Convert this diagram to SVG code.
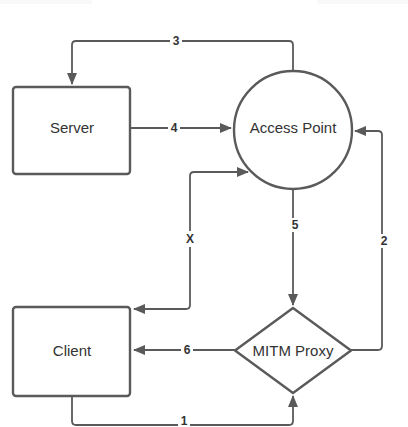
<svg xmlns="http://www.w3.org/2000/svg" width="408" height="427" viewBox="0 0 408 427">
<defs>
<marker id="ah" markerUnits="userSpaceOnUse" markerWidth="12" markerHeight="10" refX="11" refY="5" orient="auto-start-reverse">
<path d="M0,0 L12,5 L0,10 Z" fill="#5a5a5a"/>
</marker>
</defs>
<style>
.shape{fill:#fff;stroke:#5a5a5a;stroke-width:2.4}
.conn{fill:none;stroke:#5a5a5a;stroke-width:1.8;stroke-linejoin:round}
.lbl{font-family:"Liberation Sans",Arial,sans-serif;font-size:12px;font-weight:bold;fill:#333;text-anchor:middle;dominant-baseline:central}
.lblbg{fill:#fff}
.txt{font-family:"Liberation Sans",Arial,sans-serif;font-size:15px;fill:#333;text-anchor:middle}
</style>
<rect width="408" height="427" fill="#fff"/>
<rect x="0" y="0" width="92" height="4" fill="#f9f9f9"/>
<rect x="317" y="0" width="91" height="4" fill="#f9f9f9"/>
<g id="connectors">
<path class="conn" d="M293,70 V45 Q293,41 289,41 H76 Q72,41 72,45 V84" marker-end="url(#ah)"/>
<path class="conn" d="M131,128 H231" marker-end="url(#ah)"/>
<path class="conn" d="M134,309 H186 Q190,309 190,305 V176 Q190,172 194,172 H248" marker-start="url(#ah)" marker-end="url(#ah)"/>
<path class="conn" d="M293,190 V305" marker-end="url(#ah)"/>
<path class="conn" d="M351,350 H378 Q382,350 382,346 V135 Q382,131 378,131 H355" marker-end="url(#ah)"/>
<path class="conn" d="M235,350 H134" marker-end="url(#ah)"/>
<path class="conn" d="M72,397 V421 Q72,425 76,425 H289 Q293,425 293,421 V396" marker-end="url(#ah)"/>
<rect class="lblbg" x="170" y="34" width="12" height="14"/>
<text class="lbl" x="176" y="41">3</text>
<rect class="lblbg" x="168" y="121" width="12" height="14"/>
<text class="lbl" x="174" y="128">4</text>
<rect class="lblbg" x="184" y="231" width="12" height="16"/>
<text class="lbl" x="190" y="239">X</text>
<rect class="lblbg" x="289" y="218" width="12" height="14"/>
<text class="lbl" x="295" y="225">5</text>
<rect class="lblbg" x="376" y="234" width="12" height="14"/>
<text class="lbl" x="384" y="241">2</text>
<rect class="lblbg" x="181" y="343" width="12" height="14"/>
<text class="lbl" x="187" y="350">6</text>
<rect class="lblbg" x="178" y="414" width="12" height="13"/>
<text class="lbl" x="184" y="420.5">1</text>
</g>
<g id="server">
<rect class="shape" x="13" y="87" width="117" height="87" rx="3"/>
<text class="txt" x="72" y="133">Server</text>
</g>
<g id="access-point">
<circle class="shape" cx="293" cy="130" r="59"/>
<text class="txt" x="293" y="133">Access Point</text>
</g>
<g id="client">
<rect class="shape" x="13" y="307" width="117" height="89" rx="3"/>
<text class="txt" x="72" y="356">Client</text>
</g>
<g id="mitm-proxy">
<path class="shape" d="M293,308 L351,350.5 L293,393 L235,350.5 Z" stroke-linejoin="round"/>
<text class="txt" x="293" y="356">MITM Proxy</text>
</g>
</svg>
